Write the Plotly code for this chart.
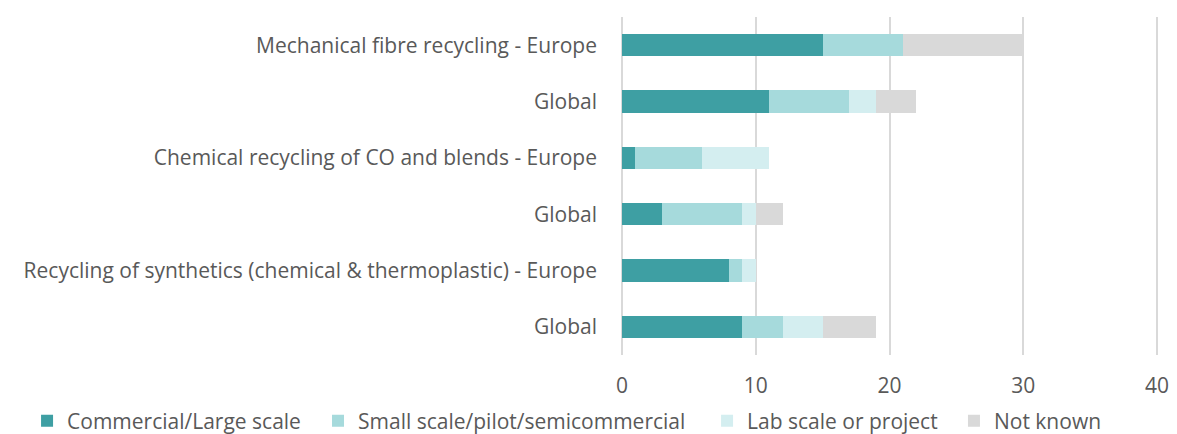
import plotly.graph_objects as go

labels = ["Mechanical fibre recycling - Europe", "Global",
          "Chemical recycling of CO and blends - Europe", "Global",
          "Recycling of synthetics (chemical & thermoplastic) - Europe", "Global"]
commercial = [15, 11, 1, 3, 8, 9]
small_scale = [6, 6, 5, 6, 1, 3]
lab_scale = [0, 2, 5, 1, 1, 3]
not_known = [9, 3, 0, 2, 0, 4]

series = [
    ("Commercial/Large scale", commercial, "#3E9FA3"),
    ("Small scale/pilot/semicommercial", small_scale, "#A6DADC"),
    ("Lab scale or project", lab_scale, "#D4EEF0"),
    ("Not known", not_known, "#D9D9D9"),
]
legend_ids = ["legend", "legend2", "legend3", "legend4"]
legend_x = [0.0163, 0.2652, 0.5980, 0.8092]

ypos = list(range(len(labels)))

fig = go.Figure()
for (name, vals, col), lid in zip(series, legend_ids):
    fig.add_trace(go.Bar(y=ypos, x=vals, name=name, orientation="h", legend=lid,
                         marker=dict(color=col, line=dict(width=0))))

FS = 21
layout_legends = {}
for lid, lx in zip(legend_ids, legend_x):
    layout_legends[lid] = dict(orientation="h", xref="container", yref="container",
                               x=lx, xanchor="left", y=0.03, yanchor="middle",
                               font=dict(size=FS), bgcolor="rgba(0,0,0,0)")

# page body has an 8px default margin, so the figure is sized to fit the window
fig.update_layout(
    barmode="stack",
    bargap=0.6,
    width=1169, height=426,
    margin=dict(l=613, r=19, t=9, b=79),
    plot_bgcolor="white", paper_bgcolor="white",
    font=dict(family="Open Sans", size=FS, color="#595959"),
    xaxis=dict(range=[-0.08, 40.08], tickvals=[0, 10, 20, 30, 40], showgrid=True,
               gridcolor="#D9D9D9", gridwidth=1.5, zeroline=False, showline=False,
               ticklabelstandoff=16, tickfont=dict(size=FS), automargin=False),
    yaxis=dict(tickvals=ypos, ticktext=labels, autorange="reversed",
               showgrid=False, zeroline=False, showline=False,
               ticklabelstandoff=23, tickfont=dict(size=FS), automargin=False),
    showlegend=True,
    **layout_legends,
)

fig.write_html("out.html")
